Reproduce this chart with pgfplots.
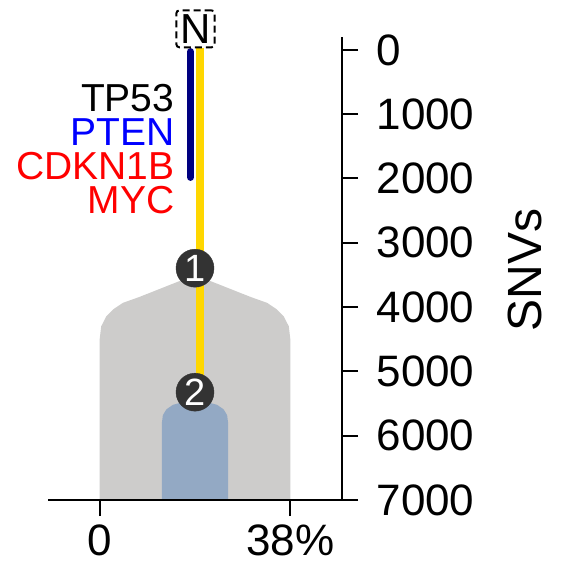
\documentclass[border=0pt]{standalone}
\usepackage{fontspec}
\setmainfont{Liberation Sans}
\usepackage{pgfplots}
\pgfplotsset{compat=1.18}
\definecolor{clonegray}{RGB}{205,204,203}
\definecolor{cloneblue}{RGB}{147,169,196}
\definecolor{trunkgold}{RGB}{255,215,0}
\definecolor{trunknavy}{RGB}{0,0,128}
\definecolor{nodedark}{RGB}{51,51,51}
\newcommand{\fs}[1]{\fontsize{#1}{#1}\selectfont}

\begin{document}
\begin{tikzpicture}
\useasboundingbox (0,0) rectangle (564pt,568pt);
\begin{axis}[
  at={(48pt,68pt)}, anchor=south west,
  scale only axis, width=294pt, height=463pt,
  xmin=-10.3, xmax=48.3, ymin=-200, ymax=7000, y dir=reverse,
  axis x line=bottom, axis y line=right,
  axis line style={-, line width=2pt, black},
  tick align=outside, major tick length=16pt,
  tick style={line width=2pt, black},
  xtick={0,38}, xticklabels={0,38\%},
  ytick={0,1000,...,7000},
  /pgf/number format/assume math mode=true,
  /pgf/number format/1000 sep={},
  ticklabel style={font=\fs{44}},
  xticklabel style={yshift=-8pt, inner sep=1pt},
  yticklabel style={xshift=15pt},
  ylabel={SNVs},
  every axis y label/.style={at={(axis description cs:1.622,0.497)}, rotate=90, anchor=center, font=\fs{48}},
  clip=false, axis on top,
]
% clone 1 (grey) and clone 2 (blue) shapes
\addplot[fill=clonegray, draw=none] coordinates {
  (0,7000) (0,4500) (0.3,4300) (1.3,4145) (2.8,4030) (4.6,3935) (8,3840) (19,3500)
  (30,3840) (33.4,3935) (35.2,4030) (36.7,4145) (37.7,4300) (38,4500) (38,7000)
} -- cycle;
\addplot[fill=cloneblue, draw=none] coordinates {
  (12.4,7000) (12.4,5800) (12.6,5680) (13.3,5590) (14.6,5520) (16.5,5480) (19,5470)
  (21.5,5480) (23.4,5520) (24.7,5590) (25.4,5680) (25.6,5800) (25.6,7000)
} -- cycle;
% trunk lines
\addplot[trunkgold, line width=8pt] coordinates {(20,-30) (20,5323)};
\addplot[trunknavy, line width=7.5pt, line cap=round] coordinates {(18.1,30) (18.1,1980)};
% clone nodes
\addplot[only marks, mark=*, mark size=19pt, nodedark,
  nodes near coords, point meta=explicit symbolic,
  nodes near coords style={anchor=center, text=white, font=\fs{38}}]
  coordinates {(19,3395)[1] (19,5323)[2]};
% normal node
\node[draw=black, dash pattern=on 7pt off 4pt, line width=2pt,
  rounded corners=3pt, inner xsep=4pt, inner ysep=4pt, font=\fs{42}] at (axis cs:19.1,-327) {N};
% driver genes
\node[anchor=base east, inner sep=0pt, font=\fs{39}, text=black] at (axis cs:14.9,964) {TP53};
\node[anchor=base east, inner sep=0pt, font=\fs{39}, text=blue] at (axis cs:14.9,1493) {PTEN};
\node[anchor=base east, inner sep=0pt, font=\fs{39}, text=red] at (axis cs:14.9,2010) {CDKN1B};
\node[anchor=base east, inner sep=0pt, font=\fs{39}, text=red] at (axis cs:14.9,2540) {MYC};
\end{axis}
\end{tikzpicture}
\end{document}
